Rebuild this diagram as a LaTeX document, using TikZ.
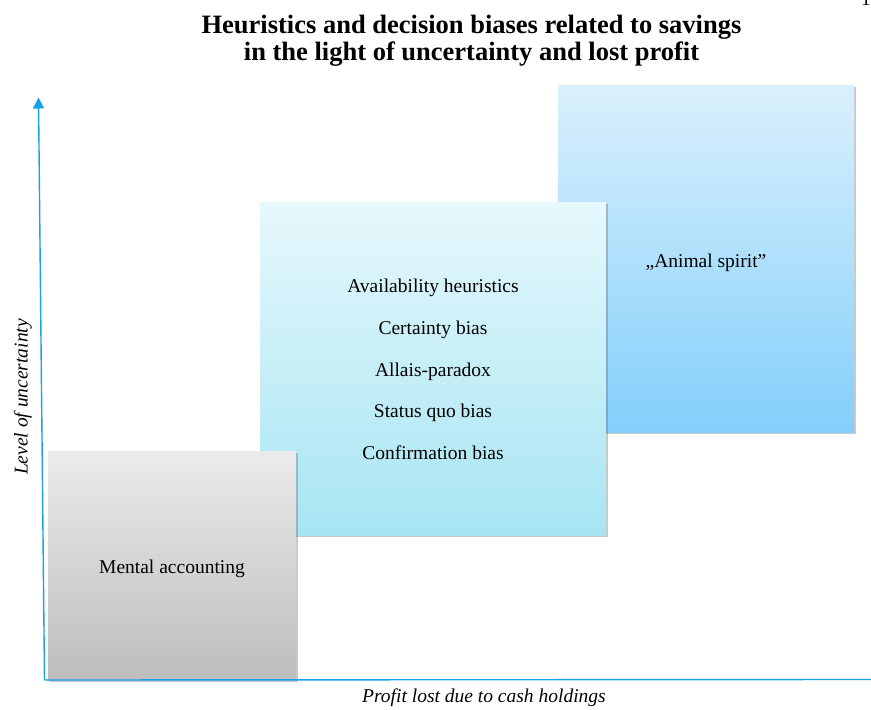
\documentclass[tikz,border=0pt]{standalone}
\usepackage{fontspec}
\setmainfont{Liberation Serif}
\usetikzlibrary{arrows.meta,shadows}
\definecolor{axisblue}{HTML}{16A3E4}
\definecolor{grayTop}{HTML}{EBEBEB}
\definecolor{grayBot}{HTML}{BDBDBD}
\definecolor{midTop}{HTML}{E6F8FC}
\definecolor{midBot}{HTML}{A7E5F3}
\definecolor{aniTop}{HTML}{DAF0FC}
\definecolor{aniBot}{HTML}{83CFFB}
\tikzset{
  boxstyle/.style={rectangle, anchor=north west, inner sep=0pt, draw=none,
    drop shadow={shadow xshift=1.6pt, shadow yshift=-1.8pt, opacity=0.3, fill=black!70}},
  bodytext/.style={font=\fontsize{19.5}{23}\selectfont, anchor=base, inner sep=0pt},
  titletext/.style={font=\fontsize{26.5}{27}\selectfont\bfseries, anchor=base, inner sep=0pt},
  axisline/.style={draw=axisblue, line width=1.4pt}
}
\begin{document}
\begin{tikzpicture}[x=1pt,y=-1pt]
\useasboundingbox (0,0) rectangle (871,710);
% page number (cropped)
\node[bodytext] (pagenum) at (866,5) {1};
% title
\node[titletext] (title1) at (471.5,33) {Heuristics and decision biases related to savings};
\node[titletext] (title2) at (471.5,60) {in the light of uncertainty and lost profit};
% boxes
\node[boxstyle, minimum width=296pt, minimum height=347pt, top color=aniTop, bottom color=aniBot] (animal) at (558,85) {};
\node[boxstyle, minimum width=346pt, minimum height=333pt, top color=midTop, bottom color=midBot] (middle) at (260,202) {};
\node[boxstyle, minimum width=248pt, minimum height=229pt, top color=grayTop, bottom color=grayBot] (mental) at (48,451) {};
% box texts
\node[bodytext] (tanimal) at (706,267) {„Animal spirit”};
\node[bodytext] (t1) at (433,292.5) {Availability heuristics};
\node[bodytext] (t2) at (433,334.3) {Certainty bias};
\node[bodytext] (t3) at (433,376.1) {Allais-paradox};
\node[bodytext] (t4) at (433,417.9) {Status quo bias};
\node[bodytext] (t5) at (433,459.7) {Confirmation bias};
\node[bodytext] (tmental) at (172,573) {Mental accounting};
% axes
\coordinate (origin) at (44.5,680);
\coordinate (ytop) at (38.5,97.5);
\coordinate (xend) at (871,679.5);
\draw[axisline, -{Triangle[width=11pt,length=11pt]}] (origin) -- (ytop);
\draw[axisline] (origin) -- (xend);
% axis labels
\node[bodytext, font=\fontsize{19.5}{23}\selectfont\itshape] (xlabel) at (484,702) {Profit lost due to cash holdings};
\node[bodytext, font=\fontsize{19.5}{23}\selectfont\itshape, rotate=90] (ylabel) at (27.5,397) {Level of uncertainty};
\end{tikzpicture}
\end{document}
